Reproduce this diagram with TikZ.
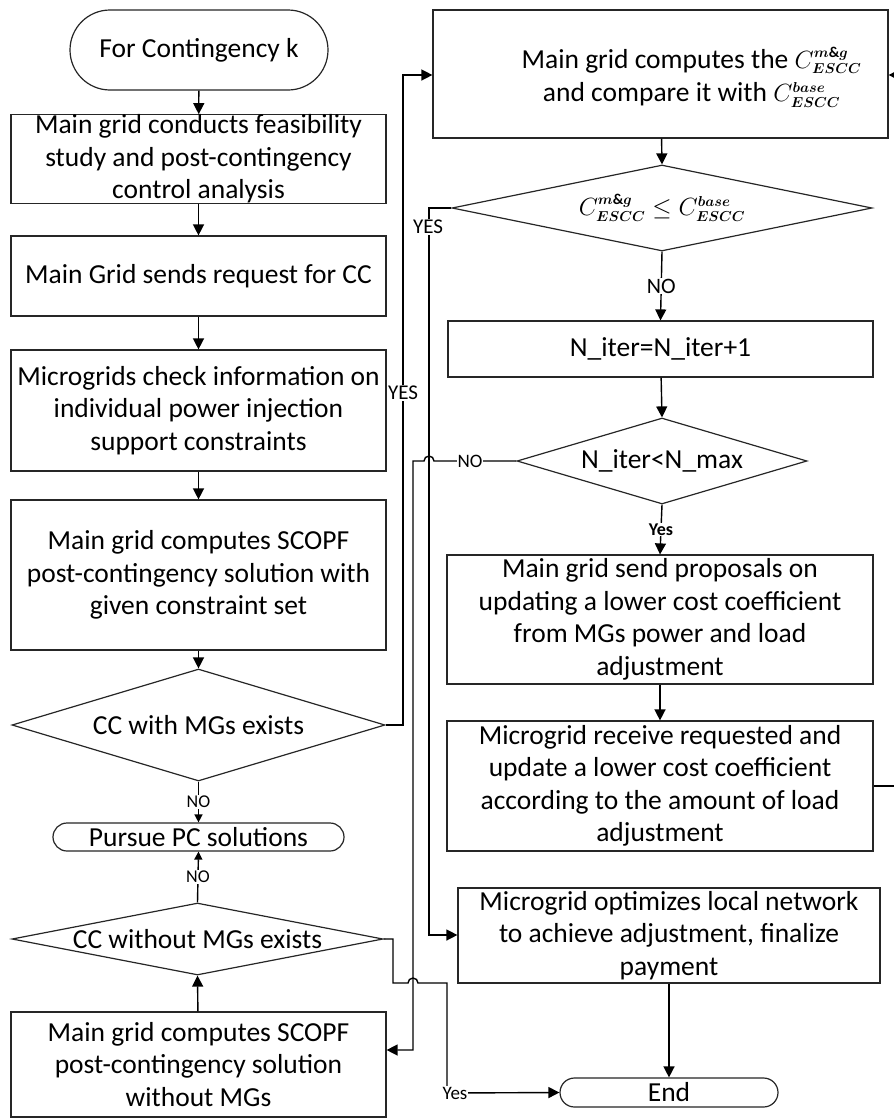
\documentclass[tikz,border=0pt]{standalone}
\usepackage{amsmath}
\usepackage{fontspec}
\setmainfont{Carlito}
\usetikzlibrary{shapes.geometric,shapes.misc,arrows.meta,calc}
\DeclareMathSizes{24}{24}{15}{11}
\newcommand\mainsz{\fontsize{27.5}{32.5}\selectfont}
\newcommand\labsz[1]{\fontsize{#1}{#1}\selectfont}
\newcommand\mathsz{\fontsize{24}{30}\selectfont}
\newcommand\cmg{C^{\boldsymbol{m\&g}}_{\boldsymbol{ESCC}}}
\newcommand\cbase{C^{\boldsymbol{base}}_{\boldsymbol{ESCC}}}
\begin{document}
\begin{tikzpicture}[x=1pt,y=-1pt,
  box/.style={draw=black!85,line width=1.2pt,rectangle,inner sep=0pt,align=center,font=\mainsz},
  term/.style={draw=black!85,line width=1.2pt,rounded rectangle,inner sep=0pt,align=center,font=\mainsz},
  dia/.style={draw=black!85,line width=1.2pt,diamond,inner sep=0pt},
  dlabel/.style={font=\mainsz,inner sep=0pt,align=center},
  conn/.style={line width=1.4pt},
  arr/.style={conn,-{Triangle[length=11pt,width=11pt]}},
  sarr/.style={conn,-{Triangle[length=8pt,width=8pt]}},
  lab/.style={fill=white,inner sep=1pt},
]
\useasboundingbox[fill=white] (0,0) rectangle (894,1119);

% left column
\node[term,minimum width=258,minimum height=80] (start) at (199,50) {For Contingency k};
\node[box,minimum width=375,minimum height=88] (b1) at (198.5,159) {Main grid conducts feasibility\\study and post-contingency\\control analysis};
\node[box,minimum width=375,minimum height=80] (b2) at (198.5,276) {Main Grid sends request for CC};
\node[box,minimum width=375,minimum height=121] (b3) at (198.5,410.5) {Microgrids check information on\\individual power injection\\support constraints};
\node[box,minimum width=375,minimum height=150] (b4) at (198.5,575) {Main grid computes SCOPF\\post-contingency solution with\\given constraint set};
\node[dia,minimum width=373,minimum height=112,label={[dlabel]center:CC with MGs exists}] (d1) at (198.5,725) {};
\node[term,minimum width=291,minimum height=28] (pursue) at (198.5,837) {Pursue PC solutions};
\node[dia,minimum width=371,minimum height=72,label={[dlabel]center:CC without MGs exists}] (d2) at (197.5,939) {};
\node[box,minimum width=375,minimum height=105] (b5) at (198.5,1064.5) {Main grid computes SCOPF\\post-contingency solution\\without MGs};

% right column
\node[box,minimum width=455,minimum height=128,label={[dlabel,xshift=31pt,yshift=-3pt]center:Main grid computes the {\mathsz$\cmg$}\\and compare it with {\mathsz$\cbase$}}] (top) at (660.5,74) {};
\node[dia,minimum width=420,minimum height=86,label={[dlabel,font=\mathsz]center:$\cmg\le\cbase$}] (d3) at (662,208) {};
\node[box,minimum width=425,minimum height=56] (nb) at (660.5,349) {N\_iter=N\_iter+1};
\node[dia,minimum width=290,minimum height=86,label={[dlabel]center:N\_iter<N\_max}] (d4) at (662,461) {};
\node[box,minimum width=426,minimum height=129] (prop) at (660,619.5) {Main grid send proposals on\\updating a lower cost coefficient\\from MGs power and load\\adjustment};
\node[box,minimum width=426,minimum height=130] (recv) at (660,786) {Microgrid receive requested and\\update a lower cost coefficient\\according to the amount of load\\adjustment};
\node[box,minimum width=422,minimum height=95] (fin) at (669,935.5) {Microgrid optimizes local network\\to achieve adjustment, finalize\\payment};
\node[term,minimum width=218,minimum height=29] (end) at (669,1092.5) {End};

% coordinates for lanes
\coordinate (ya1) at (403,725);
\coordinate (ya2) at (403,75);
\coordinate (yc1) at (429,208);
\coordinate (yc2) at (429,935);
\coordinate (nb1) at (413,461);
\coordinate (nb2) at (413,1050);
\coordinate (w1) at (393,939);
\coordinate (w2) at (393,983);
\coordinate (w3) at (447,983);
\coordinate (w4) at (447,1093);
\coordinate (r1) at (912,786);
\coordinate (r2) at (912,75);

% straight arrows
\draw[arr] (start) -- (b1);
\draw[arr] (b1) -- (b2);
\draw[arr] (b2) -- (b3);
\draw[arr] (b3) -- (b4);
\draw[arr] (b4) -- (d1);
\draw[sarr] (d1.south) -- node[lab,font=\labsz{18}]{NO} (pursue.north);
\draw[sarr] (d2.north) -- node[lab,font=\labsz{18}]{NO} (pursue.south);
\draw[arr] (b5) -- (d2.south);
\draw[arr] (top) -- (d3.north);
\draw[arr] (d3.south) -- node[lab,font=\labsz{22}]{NO} (nb.north);
\draw[arr] (nb) -- (d4.north);
\draw[arr] (d4.south) -- node[lab,font=\bfseries\labsz{18}]{Yes} (prop.north);
\draw[arr] (prop) -- (recv);
\draw[arr] (fin) -- (end);

% YES from d1 to top box
\draw[arr] (d1.east) -- (ya1) -- (ya2) -- (ya2 -| top.west);
\node[lab,font=\labsz{21}] (yes1) at (403,393) {YES};

% YES from d3 to final box
\draw[arr] (d3.west) -- (yc1) -- (yc2) -- (yc2 -| fin.west);
\node[lab,font=\labsz{21}] (yes2) at (428,227) {YES};

% NO from d4 back to b5
\draw[arr] (d4.west) -- (434,461) arc[start angle=0,end angle=-180,radius=5] -- (nb1) -- (nb2) -- (nb2 -| b5.east);
\node[lab,font=\labsz{19}] (no4) at (470,461) {NO};

% Yes from d2 to End
\draw[arr] (d2.east) -- (w1) -- (w2) -- (408,983) arc[start angle=180,end angle=360,radius=5] -- (w3) -- (w4) -- (end.west);
\node[lab,font=\labsz{19}] (yes3) at (455,1093) {Yes};

% loop from recv back to top box (runs beyond the right border)
\draw[arr] (recv.east) -- (r1) -- (r2) -- (top.east |- r2);
\end{tikzpicture}
\end{document}
